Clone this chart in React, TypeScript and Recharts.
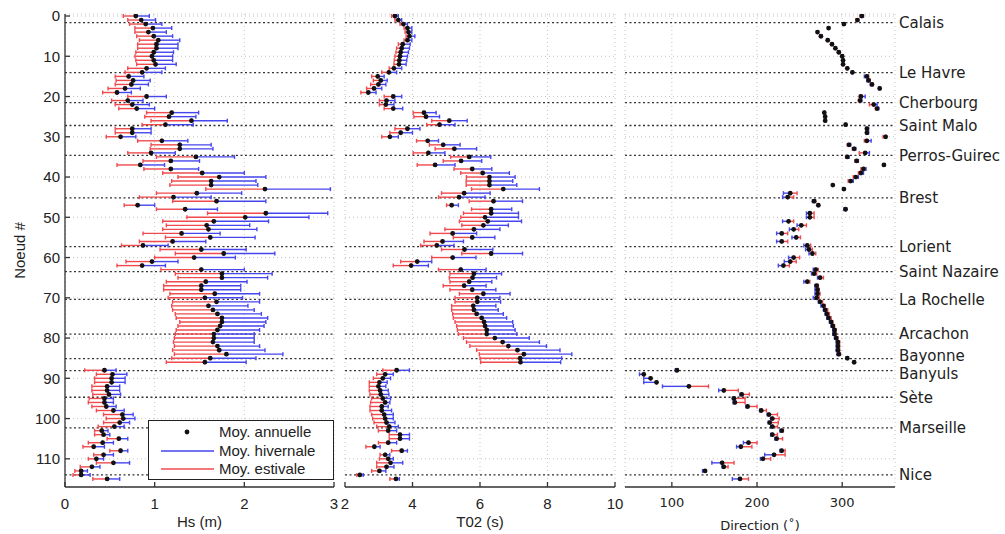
import { ScatterChart, Scatter, XAxis, YAxis, CartesianGrid, ErrorBar, ReferenceLine } from 'recharts';

// node index = position in the arrays (0..115), node 87 has no data
const hsMean = [
  0.79, 0.85, 0.90, 0.98, 0.93, 0.99, 1.04, 1.02, 1.02, 0.99, 0.97, 0.99, 1.01, 0.91, 0.86, 0.71, 0.76, 0.74, 0.67, 0.58,
  0.91, 0.70, 0.75, 0.80, 1.19, 1.16, 1.41, 1.12, 0.75, 0.75, 0.62, 1.08, 1.28, 1.28, 0.96, 1.46, 1.18, 0.84, 1.18, 1.53,
  1.72, 1.63, 1.63, 2.23, 1.47, 1.21, 1.69, 0.81, 1.34, 2.24, 2.01, 1.66, 1.58, 1.60, 1.30, 1.62, 1.20, 0.87, 1.52, 1.77,
  1.44, 0.97, 0.86, 1.52, 1.75, 1.75, 1.57, 1.52, 1.52, 1.67, 1.56, 1.69, 1.60, 1.65, 1.70, 1.75, 1.75, 1.73, 1.70, 1.66,
  1.66, 1.65, 1.70, 1.72, 1.80, 1.62, 1.56, null, 0.44, 0.53, 0.52, 0.52, 0.47, 0.47, 0.49, 0.44, 0.44, 0.46, 0.54, 0.64,
  0.65, 0.61, 0.55, 0.41, 0.43, 0.60, 0.42, 0.32, 0.62, 0.43, 0.35, 0.54, 0.30, 0.18, 0.18, 0.47,
];
const hsSummer = [
  0.65, 0.70, 0.72, 0.78, 0.78, 0.80, 0.83, 0.81, 0.81, 0.79, 0.78, 0.79, 0.80, 0.70, 0.67, 0.56, 0.57, 0.56, 0.48, 0.42,
  0.70, 0.52, 0.56, 0.60, 0.91, 0.89, 0.96, 0.86, 0.56, 0.56, 0.46, 0.81, 0.96, 0.95, 0.70, 1.02, 0.87, 0.58, 0.88, 1.09,
  1.26, 1.19, 1.17, 1.57, 1.02, 0.83, 1.20, 0.66, 1.02, 1.59, 1.36, 1.09, 1.13, 1.09, 0.87, 1.12, 0.83, 0.63, 1.06, 1.23,
  1.00, 0.68, 0.58, 1.07, 1.23, 1.26, 1.13, 1.10, 1.10, 1.17, 1.15, 1.20, 1.19, 1.20, 1.23, 1.24, 1.28, 1.26, 1.24, 1.23,
  1.22, 1.21, 1.22, 1.20, 1.22, 1.19, 1.13, null, 0.22, 0.35, 0.33, 0.33, 0.30, 0.30, 0.31, 0.27, 0.26, 0.30, 0.35, 0.43,
  0.46, 0.43, 0.37, 0.33, 0.33, 0.47, 0.26, 0.20, 0.50, 0.32, 0.26, 0.35, 0.17, 0.11, 0.09, 0.31,
];
const hsWinter = [
  0.94, 1.01, 1.08, 1.19, 1.13, 1.20, 1.28, 1.26, 1.26, 1.21, 1.20, 1.20, 1.24, 1.12, 1.08, 0.88, 0.95, 0.93, 0.84, 0.74,
  1.13, 0.87, 0.94, 1.00, 1.49, 1.46, 1.81, 1.43, 0.96, 0.96, 0.79, 1.37, 1.63, 1.65, 1.23, 1.89, 1.50, 1.11, 1.49, 2.00,
  2.24, 2.13, 2.15, 2.96, 1.97, 1.63, 2.24, 1.00, 1.70, 2.93, 2.72, 2.27, 2.06, 2.14, 1.73, 2.12, 1.57, 1.15, 2.02, 2.34,
  1.90, 1.26, 1.12, 2.00, 2.31, 2.26, 2.03, 1.96, 1.96, 2.17, 1.98, 2.17, 2.04, 2.11, 2.19, 2.26, 2.24, 2.22, 2.17, 2.11,
  2.11, 2.11, 2.17, 2.23, 2.43, 2.13, 2.02, null, 0.57, 0.69, 0.67, 0.67, 0.61, 0.61, 0.62, 0.54, 0.54, 0.57, 0.66, 0.76,
  0.78, 0.72, 0.66, 0.48, 0.50, 0.70, 0.54, 0.44, 0.70, 0.54, 0.43, 0.72, 0.39, 0.25, 0.28, 0.61,
];

const t02Mean = [
  3.48, 3.58, 3.73, 3.85, 3.88, 3.91, 3.85, 3.71, 3.68, 3.65, 3.63, 3.61, 3.60, 3.45, 3.30, 2.97, 3.06, 2.99, 2.86, 2.69,
  3.43, 3.23, 3.21, 3.43, 4.34, 4.40, 5.09, 4.80, 3.85, 3.65, 3.33, 4.45, 4.91, 5.24, 4.47, 5.68, 5.44, 4.67, 5.77, 6.08,
  6.28, 6.28, 6.28, 6.69, 5.53, 5.38, 6.40, 5.16, 6.33, 6.33, 6.15, 6.23, 6.10, 5.82, 5.19, 5.77, 4.89, 4.72, 5.54, 6.33,
  5.19, 4.14, 3.96, 5.43, 5.82, 5.78, 5.68, 5.53, 5.77, 6.10, 5.92, 5.92, 5.80, 5.82, 5.90, 6.05, 6.12, 6.15, 6.20, 6.20,
  6.44, 6.67, 6.84, 7.11, 7.30, 7.19, 7.20, null, 3.53, 3.19, 3.12, 3.02, 2.99, 3.04, 3.06, 3.12, 3.19, 3.09, 3.09, 3.16,
  3.19, 3.23, 3.31, 3.28, 3.63, 3.63, 3.28, 2.87, 3.68, 3.19, 3.28, 3.35, 3.23, 3.02, 2.44, 3.51,
];
const t02Summer = [
  3.38, 3.48, 3.63, 3.75, 3.78, 3.81, 3.75, 3.58, 3.53, 3.51, 3.48, 3.46, 3.45, 3.31, 3.09, 2.79, 2.84, 2.76, 2.64, 2.47,
  3.16, 3.02, 3.02, 3.16, 4.02, 4.04, 4.57, 4.42, 3.48, 3.33, 3.09, 4.12, 4.50, 4.67, 4.02, 5.13, 4.91, 4.14, 5.23, 5.43,
  5.60, 5.59, 5.59, 5.75, 4.86, 4.77, 5.68, 5.01, 5.75, 5.51, 5.43, 5.39, 5.46, 4.96, 4.52, 5.21, 4.34, 4.24, 4.86, 5.46,
  4.57, 3.65, 3.43, 4.77, 5.11, 5.09, 5.11, 4.91, 5.11, 5.39, 5.26, 5.26, 5.16, 5.16, 5.19, 5.21, 5.26, 5.31, 5.33, 5.36,
  5.51, 5.60, 5.70, 5.90, 5.98, 6.00, 6.02, null, 3.12, 2.94, 2.84, 2.72, 2.72, 2.72, 2.74, 2.79, 2.76, 2.74, 2.74, 2.79,
  2.82, 2.86, 2.94, 2.99, 3.31, 3.31, 2.99, 2.62, 3.38, 3.04, 3.02, 2.94, 2.94, 2.79, 2.35, 3.33,
];
const t02Winter = [
  3.58, 3.68, 3.85, 3.98, 3.98, 4.07, 3.98, 3.93, 3.91, 3.88, 3.85, 3.83, 3.81, 3.68, 3.53, 3.16, 3.25, 3.21, 3.09, 2.92,
  3.68, 3.48, 3.45, 3.71, 4.70, 4.80, 5.62, 5.26, 4.22, 4.00, 3.58, 4.77, 5.41, 5.90, 4.96, 6.32, 6.05, 5.26, 6.35, 6.87,
  7.04, 6.97, 7.09, 7.76, 6.30, 6.15, 7.26, 5.36, 6.94, 7.14, 7.14, 7.23, 6.84, 6.59, 5.90, 6.44, 5.51, 5.23, 6.38, 7.26,
  5.88, 4.57, 4.47, 6.18, 6.64, 6.49, 6.35, 6.18, 6.47, 6.89, 6.59, 6.61, 6.47, 6.54, 6.69, 6.79, 6.97, 6.99, 7.04, 7.09,
  7.46, 7.76, 7.97, 8.37, 8.72, 8.42, 8.39, null, 3.91, 3.43, 3.35, 3.25, 3.21, 3.28, 3.30, 3.35, 3.33, 3.28, 3.38, 3.43,
  3.43, 3.48, 3.58, 3.53, 3.91, 3.91, 3.53, 3.04, 3.85, 3.33, 3.43, 3.71, 3.45, 3.21, 2.54, 3.61,
];

const dirMean = [
  323, 318, 302, 284, 271, 275, 283, 288, 292, 296, 300, 301, 301, 306, 312, 329, 331, 335, 344, null,
  322, 321, 337, 341, 279, 280, 280, 304, 329, 329, 351, 329, 308, 314, 327, 306, 317, 349, 325, 322,
  316, 310, 289, 302, 239, 236, 267, 272, 304, 262, 262, 237, 252, 243, 229, 246, 229, 259, 261, 265,
  243, 239, 231, 269, 267, 274, 259, 270, 271, 271, 270, 274, 278, 280, 282, 284, 287, 289, 291, 291,
  293, 295, 295, 295, 296, 306, 314, null, 106, 67, 75, 82, 120, 161, 182, 173, 174, 189, 205, 214,
  218, 215, 218, 229, 218, 223, 190, 181, 229, 220, 207, 159, 161, 139, null, 180,
];
const dirSummer = [
  321, 316, 301, 283, 270, 274, 282, 287, 291, 295, 299, 300, 300, 305, 311, 331, 333, 336, 345, null,
  320, 319, 332, 339, 279, 280, 280, 303, 328, 328, 348, 326, 306, 312, 320, 304, 315, 348, 322, 319,
  313, 307, 289, 301, 247, 243, 269, 273, 305, 267, 267, 243, 258, 249, 236, 251, 236, 263, 265, 269,
  250, 246, 238, 272, 270, 278, 262, 272, 273, 274, 273, 277, 280, 283, 285, 287, 289, 291, 293, 293,
  295, 297, 297, 297, 298, 307, 315, null, 107, 68, 76, 83, 143, 178, 191, 186, 186, 200, 211, 224,
  226, 225, 224, 231, 224, 230, 200, 194, 233, 233, 216, 173, 166, 140, null, 190,
];
const dirWinter = [
  325, 319, 303, 285, 272, 276, 284, 289, 293, 297, 301, 302, 302, 307, 313, 326, 329, 333, 343, null,
  327, 323, 341, 343, 280, 281, 281, 305, 331, 331, 352, 334, 310, 316, 332, 308, 319, 350, 328, 325,
  319, 313, 289, 303, 231, 230, 265, 271, 302, 258, 258, 230, 247, 238, 223, 241, 223, 255, 257, 261,
  237, 232, 225, 266, 264, 271, 255, 268, 268, 268, 266, 272, 275, 278, 280, 282, 285, 287, 289, 289,
  291, 293, 293, 293, 294, 305, 313, null, 104, 62, 67, 67, 89, 155, 180, 171, 172, 187, 203, 212,
  216, 213, 216, 227, 216, 221, 184, 176, 227, 209, 204, 147, 159, 136, null, 171,
];

const cityNames = [
  'Calais', 'Le Havre', 'Cherbourg', 'Saint Malo', 'Perros-Guirec', 'Brest', 'Lorient', 'Saint Nazaire',
  'La Rochelle', 'Arcachon', 'Bayonne', 'Banyuls', 'Sète', 'Marseille', 'Nice',
];
const cityNodes = [1.66, 14.07, 21.5, 27.2, 34.6, 45.2, 57.3, 63.5, 70.4, 79.0, 85.1, 88.1, 94.7, 102.3, 114.0];

const nodeTicks = [0, 10, 20, 30, 40, 50, 60, 70, 80, 90, 100, 110];
const hsTicks = [0, 1, 2, 3];
const t02Ticks = [2, 4, 6, 8, 10];
const dirTicks = [100, 200, 300];

const RED = '#f04a4e';
const BLUE = '#4646ee';
const FRAME = '#333';
const HELV = 'Liberation Sans, Arial, sans-serif';
const DEJA = 'DejaVu Sans, sans-serif';

// Bayonne and Banyuls sit very close: nudge the two labels apart a little
const labelShift: Record<string, number> = { Bayonne: -3, Banyuls: 3 };

const err = (m: number, v: number) => (v < m ? [m - v, 0] : [0, v - m]);

const toRows = (mean: (number | null)[], summer: (number | null)[], winter: (number | null)[]) =>
  mean.flatMap((m, i) =>
    m == null ? [] : [{ n: i, v: m, eS: err(m, summer[i] as number), eW: err(m, winter[i] as number) }]
  );

const hsRows = toRows(hsMean, hsSummer, hsWinter);
const t02Rows = toRows(t02Mean, t02Summer, t02Winter);
const dirRows = toRows(dirMean, dirSummer, dirWinter);

const Dot = (p: any) => <circle cx={p.cx} cy={p.cy} r={2.4} fill="#111" />;

interface PanelProps {
  rows: any[];
  left: number;
  width: number;
  marginRight: number;
  domain: [number, number];
  ticks: number[];
  title: string;
  font: string;
  fontSize: number;
  titleOffset: number;
  showNodes?: boolean;
  showCities?: boolean;
}

const Panel = ({ rows, left, width, marginRight, domain, ticks, title, font, fontSize, titleOffset, showNodes, showCities }: PanelProps) => {
  const blank = () => '';
  return (
    <div style={{ position: 'absolute', left, top: 0 }}>
      <ScatterChart width={width} height={534} margin={{ top: 14, right: marginRight, bottom: 2, left: showNodes ? 15 : 5 }}>
        <CartesianGrid stroke="#c4c4c4" strokeDasharray="1 3" />
        <XAxis
          dataKey="v"
          type="number"
          domain={domain}
          ticks={ticks}
          allowDataOverflow
          height={45}
          tickSize={-5}
          tickMargin={16}
          stroke={FRAME}
          strokeWidth={1.3}
          tick={{ fill: '#222', fontSize, fontFamily: font }}
          label={{ value: title, position: 'insideBottom', offset: titleOffset, fill: '#222', fontSize, fontFamily: font }}
        />
        <XAxis
          xAxisId="t"
          orientation="top"
          type="number"
          domain={domain}
          ticks={ticks}
          allowDataOverflow
          height={0}
          tickSize={-5}
          tickFormatter={blank}
          stroke={FRAME}
          strokeWidth={1.3}
        />
        <YAxis
          dataKey="n"
          type="number"
          domain={[-0.5, 117]}
          reversed
          ticks={nodeTicks}
          allowDataOverflow
          width={showNodes ? 50 : 0}
          tickSize={-5}
          tickMargin={10}
          tickFormatter={showNodes ? undefined : blank}
          stroke={FRAME}
          strokeWidth={1.3}
          tick={{ fill: '#222', fontSize: 15, fontFamily: HELV }}
          label={
            showNodes
              ? {
                  content: (props: any) => {
                    const vb = props.viewBox || { x: 15, y: 14, height: 473 };
                    const cx = vb.x + 4;
                    const cy = vb.y + vb.height / 2;
                    return (
                      <text x={cx} y={cy} transform={`rotate(-90 ${cx} ${cy})`} textAnchor="middle" dominantBaseline="central" fill="#222" fontSize={15} fontFamily={HELV}>
                        Noeud #
                      </text>
                    );
                  },
                }
              : undefined
          }
        />
        <YAxis
          yAxisId="r"
          orientation="right"
          type="number"
          domain={[-0.5, 117]}
          reversed
          ticks={nodeTicks}
          allowDataOverflow
          width={0}
          tickSize={-5}
          tickFormatter={blank}
          stroke={FRAME}
          strokeWidth={1.3}
        />
        {cityNodes.map((c, i) => (
          <ReferenceLine
            key={cityNames[i]}
            y={c}
            stroke="#333"
            strokeWidth={1.3}
            strokeDasharray="2 2.5"
            label={
              showCities
                ? {
                    value: cityNames[i],
                    position: 'right',
                    offset: 4,
                    dy: labelShift[cityNames[i]] || 0,
                    fill: '#222',
                    fontSize: 15,
                    fontFamily: DEJA,
                  }
                : undefined
            }
          />
        ))}
        <Scatter data={rows} isAnimationActive={false} shape={Dot}>
          <ErrorBar dataKey="eW" direction="x" width={2} stroke={BLUE} strokeWidth={1.4} isAnimationActive={false} />
          <ErrorBar dataKey="eS" direction="x" width={2} stroke={RED} strokeWidth={1.4} isAnimationActive={false} />
        </Scatter>
      </ScatterChart>
    </div>
  );
};

const legendRow = { position: 'absolute' as const, left: 0, height: 18, lineHeight: '18px', display: 'flex', alignItems: 'center' };

export default function App() {
  return (
    <div style={{ position: 'absolute', left: 0, top: 0, width: 1005, height: 534, background: '#fff' }}>
      <Panel rows={hsRows} left={0} width={345} marginRight={11} domain={[0, 3]} ticks={hsTicks} title="Hs (m)" font={HELV} fontSize={15} titleOffset={5} showNodes />
      <Panel rows={t02Rows} left={340} width={285} marginRight={10} domain={[2, 10]} ticks={t02Ticks} title="T02 (s)" font={HELV} fontSize={15} titleOffset={5} />
      <Panel rows={dirRows} left={620} width={385} marginRight={110} domain={[45, 362]} ticks={dirTicks} title="Direction (˚)" font={DEJA} fontSize={13} titleOffset={2} showCities />
      <div style={{ position: 'absolute', left: 148, top: 420, width: 186, height: 60, boxSizing: 'border-box', border: '1.5px solid #222', background: '#fff', fontFamily: HELV, fontSize: 15, color: '#222' }}>
        <div style={{ ...legendRow, top: 2 }}>
          <svg width={70} height={18}><circle cx={38} cy={9} r={2.4} fill="#111" /></svg>
          <span>Moy. annuelle</span>
        </div>
        <div style={{ ...legendRow, top: 21 }}>
          <svg width={70} height={18}><line x1={12} x2={65} y1={9} y2={9} stroke={BLUE} strokeWidth={1.4} /></svg>
          <span>Moy. hivernale</span>
        </div>
        <div style={{ ...legendRow, top: 39 }}>
          <svg width={70} height={18}><line x1={12} x2={65} y1={9} y2={9} stroke={RED} strokeWidth={1.4} /></svg>
          <span>Moy. estivale</span>
        </div>
      </div>
    </div>
  );
}
